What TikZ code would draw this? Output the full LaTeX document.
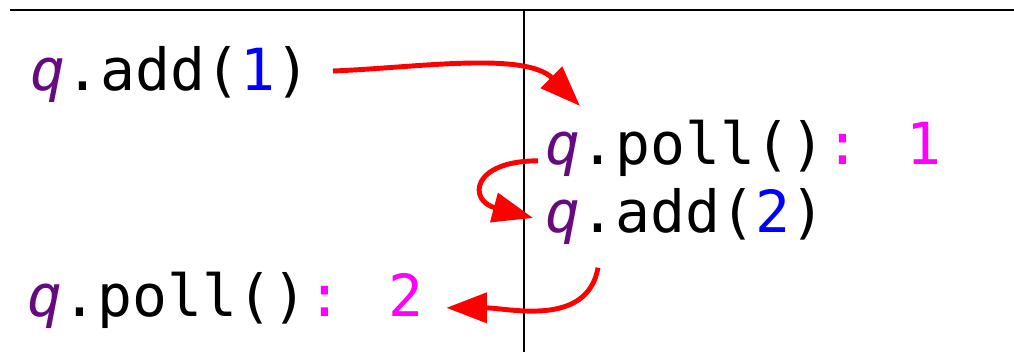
\documentclass[tikz,border=0pt]{standalone}
\usepackage{fontspec}
\usepackage{xcolor}
\usepackage{tikz}
\usetikzlibrary{arrows.meta}
\newfontfamily\codefont{DejaVu Sans Mono}
\definecolor{QPurple}{HTML}{660A80}
\definecolor{ArgBlue}{HTML}{0000FF}
\definecolor{ResPink}{HTML}{FF00FF}
\definecolor{FlowRed}{HTML}{FF0000}
\newcommand{\qvar}{\textcolor{QPurple}{\itshape q}}
\tikzset{
  code/.style={anchor=base west,inner sep=0pt,font=\codefont\fontsize{16.5}{19}\selectfont},
  flow/.style={FlowRed,line width=1.4pt,-{Triangle[length=11.5pt,width=8.4pt]}},
  rule/.style={black,line width=0.6pt}
}

\begin{document}
\begin{tikzpicture}[x=0.01cm,y=-0.01cm]
\path[use as bounding box] (0,0) rectangle (1014,352);
\draw[rule] (10,10) -- (1014,10);
\draw[rule] (524,10) -- (524,352);
\node[code] (add1) at (30,91) {\qvar.add(\textcolor{ArgBlue}{1})};
\node[code] (poll1) at (545,165) {\qvar.poll()\textcolor{ResPink}{: 1}};
\node[code] (add2) at (545,233) {\qvar.add(\textcolor{ArgBlue}{2})};
\node[code] (poll2) at (27,317) {\qvar.poll()\textcolor{ResPink}{: 2}};
\draw[flow] ([shift={(22,-4)}]add1.east) to[out=2,in=135,looseness=0.8] ([shift={(35,-14)}]poll1.north west);
\draw[flow] ([shift={(-7,12)}]poll1.west) to[out=180,in=165,looseness=3] ([shift={(-12,1)}]add2.west);
\draw[flow] ([shift={(53,22)}]add2.south west) to[out=-100,in=0] ([shift={(22,7)}]poll2.east);
\end{tikzpicture}
\end{document}
